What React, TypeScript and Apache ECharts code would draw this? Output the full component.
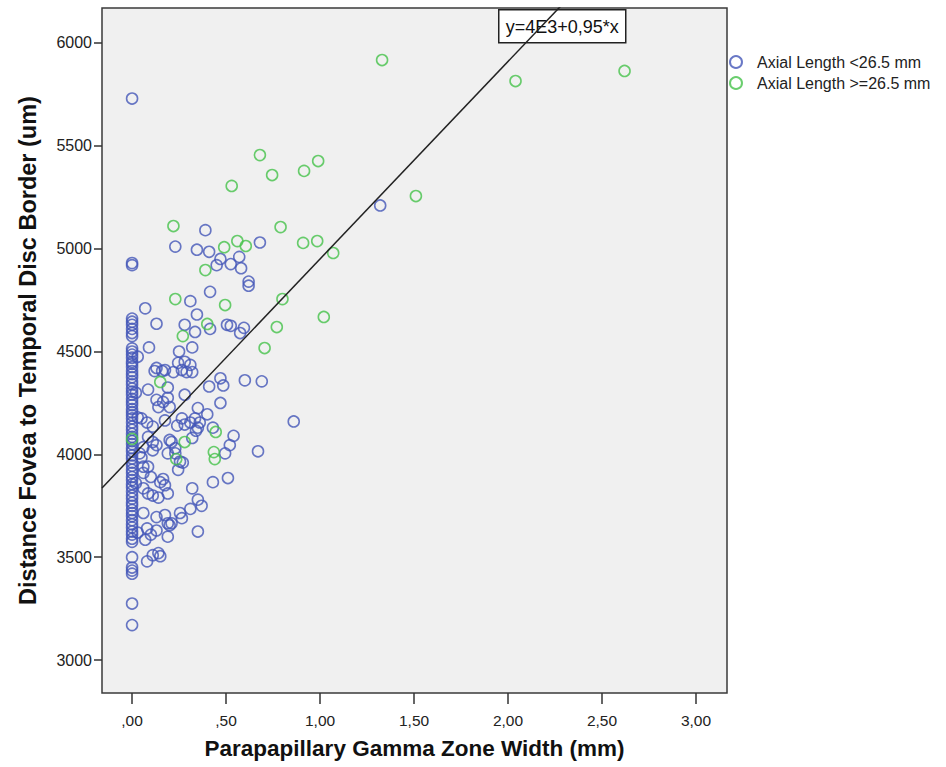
import React, { useEffect, useRef } from "react";
import * as echarts from "echarts";

// ---- Data ----
const X_TICKS = [0, 0.5, 1, 1.5, 2, 2.5, 3];
const Y_TICKS = [3000, 3500, 4000, 4500, 5000, 5500, 6000];
const X_RANGE = [-0.16, 3.165];
const Y_RANGE = [2840, 6170];

const SERIES_NAMES = ["Axial Length <26.5 mm", "Axial Length >=26.5 mm"];

const FIT_INTERCEPT = 3990;
const FIT_SLOPE = 960;
const FIT_LABEL = "y=4E3+0,95*x";

const X_TITLE = "Parapapillary Gamma Zone Width (mm)";
const Y_TITLE = "Distance Fovea to Temporal Disc Border (um)";

// Axial length < 26.5 mm (blue)
const shortEyes: number[][] = [
  [0, 5730], [0, 4930], [0, 4920],
  [0, 4660], [0, 4645], [0, 4630], [0, 4610], [0, 4590], [0, 4575],
  [0, 4515], [0, 4500], [0, 4485], [0, 4470], [0, 4450], [0, 4440], [0, 4425], [0, 4405],
  [0, 4390], [0, 4375], [0, 4355], [0, 4340], [0, 4320], [0, 4305], [0, 4290], [0, 4270],
  [0, 4255], [0, 4240], [0, 4220], [0, 4205], [0, 4190], [0, 4175], [0, 4155], [0, 4135],
  [0, 4120], [0, 4100], [0, 4085], [0, 4065], [0, 4050], [0, 4030], [0, 4015], [0, 3995],
  [0, 3980], [0, 3960], [0, 3945], [0, 3925], [0, 3910], [0, 3890], [0, 3875], [0, 3855],
  [0, 3840], [0, 3820], [0, 3800], [0, 3785], [0, 3765], [0, 3750], [0, 3730], [0, 3715],
  [0, 3700], [0, 3680], [0, 3660], [0, 3645], [0, 3625], [0, 3610], [0, 3590], [0, 3575],
  [0, 3500], [0, 3450], [0, 3435], [0, 3420], [0, 3275], [0, 3170],
  [0.03, 4475], [0.02, 4300], [0.03, 4180], [0.05, 4175], [0.06, 4035], [0.05, 3985],
  [0.04, 4005], [0.06, 3940], [0.06, 3910], [0.06, 3835], [0.06, 3715], [0.07, 3585],
  [0.08, 3640], [0.08, 3480], [0.02, 3860], [0.03, 3620], [0.07, 4710], [0.09, 4520],
  [0.085, 4315], [0.085, 4085], [0.085, 3940], [0.085, 3810], [0.08, 4155], [0.10, 3890],
  [0.10, 3610],
  [1.32, 5210], [0.39, 5090], [0.23, 5010], [0.345, 4995], [0.41, 4985], [0.68, 5030],
  [0.47, 4950], [0.57, 4960], [0.45, 4920], [0.525, 4925], [0.58, 4905], [0.62, 4840],
  [0.62, 4820], [0.415, 4790], [0.31, 4745], [0.345, 4680], [0.13, 4635], [0.28, 4630],
  [0.335, 4595], [0.415, 4610], [0.505, 4630], [0.525, 4625], [0.595, 4615], [0.575, 4590],
  [0.32, 4520], [0.25, 4500],
  [0.12, 4405], [0.16, 4405], [0.13, 4420], [0.22, 4400], [0.245, 4445], [0.28, 4450],
  [0.31, 4435], [0.32, 4400], [0.265, 4410], [0.29, 4400], [0.175, 4410],
  [0.47, 4370], [0.41, 4330], [0.485, 4335], [0.60, 4360], [0.69, 4355], [0.19, 4325],
  [0.28, 4290],
  [0.13, 4265], [0.165, 4255], [0.19, 4275], [0.20, 4230], [0.14, 4230], [0.35, 4225],
  [0.40, 4195], [0.335, 4175], [0.36, 4155], [0.265, 4175], [0.28, 4145], [0.47, 4250],
  [0.11, 4135], [0.43, 4130], [0.35, 4130], [0.86, 4160], [0.34, 4115], [0.54, 4090],
  [0.52, 4045], [0.495, 4005], [0.32, 4080], [0.67, 4015], [0.11, 4060], [0.11, 4020],
  [0.13, 4045], [0.20, 4070], [0.23, 4030], [0.21, 4060], [0.19, 4005], [0.23, 4005],
  [0.175, 4165], [0.24, 4140], [0.31, 4155],
  [0.255, 3965], [0.245, 3925], [0.27, 3960], [0.15, 3865], [0.165, 3880], [0.175, 3850],
  [0.32, 3835], [0.43, 3865], [0.51, 3885], [0.14, 3790], [0.19, 3810], [0.11, 3800],
  [0.35, 3780], [0.37, 3750], [0.31, 3735], [0.255, 3715], [0.265, 3690], [0.13, 3695],
  [0.175, 3705], [0.19, 3665], [0.21, 3665], [0.35, 3625], [0.13, 3630], [0.19, 3600],
  [0.20, 3655], [0.11, 3510], [0.14, 3520], [0.15, 3505],
];

// Axial length >= 26.5 mm (green)
const longEyes: number[][] = [
  [1.33, 5917], [2.04, 5815], [2.62, 5864], [0.68, 5455], [0.99, 5426], [0.915, 5378],
  [0.745, 5358], [0.53, 5305], [1.51, 5256], [0.22, 5110], [0.49, 5007], [0.56, 5037],
  [0.605, 5013], [0.79, 5105], [0.91, 5028], [0.985, 5037], [1.07, 4979], [0.39, 4896],
  [0.23, 4755], [0.80, 4755], [0.495, 4726], [0.77, 4619], [1.02, 4668], [0.40, 4634],
  [0.27, 4575], [0.705, 4517], [0.15, 4352], [0.0, 4075], [0.28, 4060], [0.445, 4109],
  [0.235, 3977], [0.435, 4011], [0.44, 3977],
];

const BLUE = "#4456b8";
const GREEN = "#45c24a";
const FONT = "'Liberation Sans', Arial, Helvetica, sans-serif";

function fmtX(v: number): string {
  const s = v.toFixed(2).replace(".", ",");
  return s.startsWith("0,") ? s.slice(1) : s;
}

export default function App() {
  const ref = useRef<HTMLDivElement>(null);

  useEffect(() => {
    const chart = echarts.init(ref.current!, null, { renderer: "svg" });
    const fit = (x: number) => FIT_INTERCEPT + FIT_SLOPE * x;
    const fitLine = [
      [X_RANGE[0], fit(X_RANGE[0])],
      [X_RANGE[1], fit(X_RANGE[1])],
    ];

    const scatterStyle = (color: string) => ({
      color: "rgba(0,0,0,0)",
      borderColor: color,
      borderWidth: 1.6,
    });

    chart.setOption({
      animation: false,
      backgroundColor: "#ffffff",
      grid: {
        left: 102,
        top: 8,
        width: 625,
        height: 685,
        show: true,
        backgroundColor: "#f0f0f0",
        borderColor: "#3a3a3a",
        borderWidth: 1.5,
      },
      xAxis: {
        type: "value",
        min: X_RANGE[0],
        max: X_RANGE[1],
        axisLine: { show: false, onZero: false },
        splitLine: { show: false },
        axisTick: {
          show: true,
          customValues: X_TICKS,
          length: 11,
          lineStyle: { color: "#333", width: 1.5 },
        },
        axisLabel: {
          customValues: X_TICKS,
          formatter: (v: number) => fmtX(v),
          fontSize: 15.5,
          color: "#222",
          fontFamily: FONT,
          margin: 19,
        },
        name: X_TITLE,
        nameLocation: "middle",
        nameGap: 44,
        nameTextStyle: {
          fontSize: 22.5,
          fontWeight: "bold",
          color: "#111",
          fontFamily: FONT,
        },
      },
      yAxis: {
        type: "value",
        min: Y_RANGE[0],
        max: Y_RANGE[1],
        axisLine: { show: false, onZero: false },
        splitLine: { show: false },
        axisTick: {
          show: true,
          customValues: Y_TICKS,
          length: 8,
          lineStyle: { color: "#333", width: 1.5 },
        },
        axisLabel: {
          customValues: Y_TICKS,
          formatter: (v: number) => String(Math.round(v)),
          fontSize: 16,
          color: "#222",
          fontFamily: FONT,
          margin: 10,
        },
        name: Y_TITLE,
        nameLocation: "middle",
        nameGap: 62,
        nameTextStyle: {
          fontSize: 23.5,
          fontWeight: "bold",
          color: "#111",
          fontFamily: FONT,
        },
      },
      legend: {
        orient: "vertical",
        left: 729,
        top: 54,
        padding: 0,
        itemWidth: 12,
        itemHeight: 12,
        itemGap: 5,
        icon: "circle",
        data: SERIES_NAMES,
        textStyle: {
          fontSize: 16,
          color: "#222",
          fontFamily: FONT,
          padding: [0, 0, 0, 10],
        },
      },
      series: [
        {
          name: SERIES_NAMES[0],
          type: "scatter",
          data: shortEyes,
          symbol: "circle",
          symbolSize: 11,
          itemStyle: scatterStyle(BLUE),
          z: 2,
        },
        {
          name: SERIES_NAMES[1],
          type: "scatter",
          data: longEyes,
          symbol: "circle",
          symbolSize: 11,
          itemStyle: scatterStyle(GREEN),
          z: 3,
        },
        {
          name: "fit",
          type: "line",
          data: fitLine,
          symbol: "none",
          clip: true,
          silent: true,
          lineStyle: { color: "#222", width: 1.5 },
          z: 4,
        },
      ],
      graphic: [
        {
          type: "group",
          left: 498,
          top: 9,
          z: 100,
          children: [
            {
              type: "rect",
              shape: { x: 0, y: 0, width: 127, height: 33 },
              style: { fill: "#ffffff", stroke: "#222", lineWidth: 1.5 },
            },
            {
              type: "text",
              x: 63.5,
              y: 17,
              style: {
                text: FIT_LABEL,
                fontSize: 18,
                fontFamily: FONT,
                fill: "#111",
                align: "center",
                verticalAlign: "middle",
              },
            },
          ],
        },
      ],
    });
    return () => chart.dispose();
  }, []);

  return (
    <div
      ref={ref}
      style={{ position: "fixed", left: 0, top: 0, width: 946, height: 767, background: "#fff" }}
    />
  );
}
